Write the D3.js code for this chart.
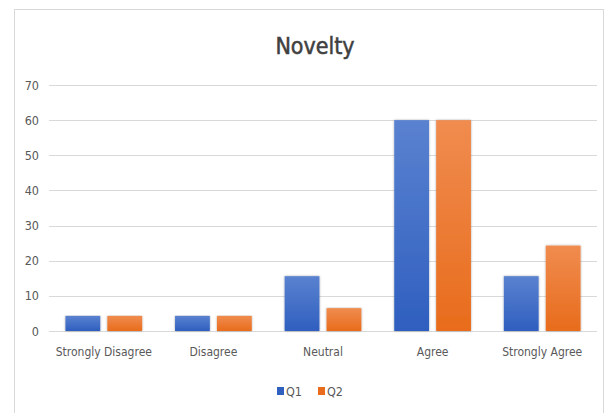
<!DOCTYPE html>
<html>
<head>
<meta charset="utf-8">
<script src="https://cdn.jsdelivr.net/npm/d3@7"></script>
<style>
  html, body { margin: 0; padding: 0; background: #fff; }
  svg { display: block; font-family: "DejaVu Sans Condensed", "DejaVu Sans", sans-serif; font-stretch: condensed; }
</style>
</head>
<body>
<svg id="chart" width="615" height="413"></svg>
<script>
// Survey responses on novelty, in percent
const categories = ["Strongly Disagree", "Disagree", "Neutral", "Agree", "Strongly Agree"];
const seriesNames = ["Q1", "Q2"];
const q1Values = [4.3, 4.3, 15.6, 60, 15.6];
const q2Values = [4.3, 4.3, 6.5, 60, 24.3];
const yTicks = [0, 10, 20, 30, 40, 50, 60, 70];

const colors = { Q1: ["#5a82d0", "#2f5fbf"], Q2: ["#f08c4f", "#e86c1c"] };

const rows = categories.map((c, i) => ({ category: c, Q1: q1Values[i], Q2: q2Values[i] }));

const svg = d3.select("#chart");
const W = 615, H = 413;
const m = { left: 49, right: 18, top: 85, bottom: 82 };

// chart frame
svg.append("rect").attr("x", 14.5).attr("y", 9.5).attr("width", 589).attr("height", 420)
  .attr("fill", "#fff").attr("stroke", "#d9d9d9").attr("stroke-width", 1);

const defs = svg.append("defs");
seriesNames.forEach(s => {
  const g = defs.append("linearGradient").attr("id", "grad-" + s)
    .attr("x1", 0).attr("y1", 0).attr("x2", 0).attr("y2", 1);
  g.append("stop").attr("offset", "0%").attr("stop-color", colors[s][0]);
  g.append("stop").attr("offset", "100%").attr("stop-color", colors[s][1]);
});
const shadow = defs.append("filter").attr("id", "shadow")
  .attr("x", "-20%").attr("y", "-5%").attr("width", "140%").attr("height", "115%");
shadow.append("feDropShadow").attr("dx", 0).attr("dy", 0).attr("stdDeviation", 1.2)
  .attr("flood-color", "#000").attr("flood-opacity", 0.35);

const x0 = d3.scaleBand().domain(categories).range([m.left, W - m.right]).paddingInner(0.3).paddingOuter(0.15);
const x1 = d3.scaleBand().domain(seriesNames).range([0, x0.bandwidth()]).paddingInner(0.17);
const y = d3.scaleLinear().domain([0, 70]).range([H - m.bottom, m.top]);

// gridlines
svg.append("g").selectAll("line").data(yTicks).join("line")
  .attr("x1", m.left).attr("x2", W - m.right)
  .attr("y1", d => Math.round(y(d)) + 0.5).attr("y2", d => Math.round(y(d)) + 0.5)
  .attr("stroke", "#d9d9d9").attr("stroke-width", 1);

// y axis labels
const yAxis = d3.axisLeft(y).tickValues(yTicks).tickSize(0).tickPadding(10);
const ya = svg.append("g").attr("transform", `translate(${m.left},0)`).call(yAxis)
  .attr("font-family", null).attr("font-size", null);
ya.select(".domain").remove();
ya.selectAll("text").attr("fill", "#595959").style("font-size", "12.5px");

// x axis labels
const xAxis = d3.axisBottom(x0).tickSize(0).tickPadding(16);
const xa = svg.append("g").attr("transform", `translate(0,${H - m.bottom})`).call(xAxis)
  .attr("font-family", null).attr("font-size", null);
xa.select(".domain").remove();
xa.selectAll("text").attr("fill", "#595959").style("font-size", "12px");

// bars
svg.append("g").selectAll("g").data(rows).join("g")
  .attr("transform", d => `translate(${x0(d.category)},0)`)
  .selectAll("rect").data(d => seriesNames.map(s => ({ s, v: d[s] }))).join("rect")
  .attr("x", d => x1(d.s)).attr("width", x1.bandwidth())
  .attr("y", d => y(d.v)).attr("height", d => y(0) - y(d.v))
  .attr("fill", d => `url(#grad-${d.s})`).attr("filter", "url(#shadow)");

// title
svg.append("text").attr("x", 315).attr("y", 54).attr("text-anchor", "middle")
  .attr("fill", "#404040").attr("stroke", "#404040").attr("stroke-width", 0.5)
  .style("font-size", "23px").text("Novelty");

// legend
const lg = svg.append("g").attr("transform", "translate(277,391)");
seriesNames.forEach((s, i) => {
  const g = lg.append("g").attr("transform", `translate(${i * 41},0)`);
  g.append("rect").attr("x", 0).attr("y", -4).attr("width", 7).attr("height", 8).attr("fill", colors[s][1]);
  g.append("text").attr("x", 9).attr("y", 5).attr("fill", "#595959").style("font-size", "12.5px").text(s);
});
</script>
</body>
</html>
